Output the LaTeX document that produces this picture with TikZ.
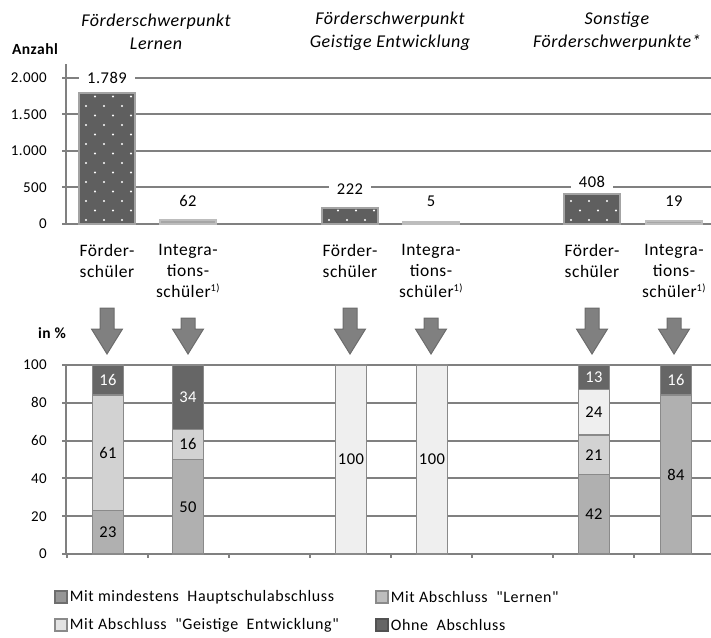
\documentclass[tikz,border=0pt]{standalone}
\usepackage{fontspec}
\setmainfont{Carlito}[LetterSpace=3]
\newfontfamily\keyfont{Carlito}[LetterSpace=4]
\usetikzlibrary{positioning}
\definecolor{axisgray}{HTML}{808080}
\definecolor{bardark}{HTML}{5F5F5F}
\definecolor{barrim}{HTML}{A3A3A3}
\definecolor{barlight}{HTML}{A6A6A6}
\definecolor{barlightrim}{HTML}{BDBDBD}
\definecolor{hauptgray}{HTML}{B0B0B0}
\definecolor{lerngray}{HTML}{D2D2D2}
\definecolor{geistgray}{HTML}{EFEFEF}
\definecolor{ohnegray}{HTML}{666666}
\definecolor{segrim}{HTML}{8A8A8A}
\definecolor{arrowgray}{HTML}{808080}
\definecolor{arrowrim}{HTML}{6C6C6C}
\tikzset{
  gridline/.style={draw=axisgray, line width=2pt},
  ticklab/.style={anchor=east, inner sep=0pt, font=\fontsize{15}{17}\selectfont},
  vallab/.style={fill=white, inner xsep=8pt, inner ysep=5pt, font=\fontsize{16.5}{19}\selectfont},
  countbar/.style={fill=bardark, draw=barrim, line width=2pt},
  smallbar/.style={fill=barlight, draw=barlightrim, line width=2pt},
  seg/.style={draw=segrim, line width=1.5pt},
  seglab/.style={inner sep=0pt, font=\fontsize{16.5}{19}\selectfont},
  titlelab/.style={align=center, font=\fontsize{18}{23}\selectfont\itshape},
  catlab/.style={align=center, anchor=north, inner sep=0pt, font=\fontsize{17.5}{21}\selectfont},
  headlab/.style={inner sep=0pt, font=\fontsize{15.5}{18}\selectfont\bfseries},
  keybox/.style={minimum size=12pt, inner sep=0pt, line width=1.2pt},
  keylab/.style={anchor=west, inner sep=1pt, font=\keyfont\fontsize{16}{18}\selectfont},
  downarrow/.style={fill=arrowgray, draw=arrowrim, line width=1pt},
}

\begin{document}
\begin{tikzpicture}[x=1pt,y=-1pt]
  \useasboundingbox (0,0) rectangle (711,637);

  % headings
  \node[titlelab] (tlernen) at (156,31.5) {Förderschwerpunkt\\Lernen};
  \node[titlelab] (tgeistig) at (390,31.5) {Förderschwerpunkt\\Geistige Entwicklung};
  \node[titlelab] (tsonst) at (617,31.5) {Sonstige\\Förderschwerpunkte*};
  \node[headlab] (anzahl) at (35,49) {Anzahl};
  \node[headlab] (inproz) at (52,333) {in \%};

  % upper chart: grid and axes
  \foreach \v in {500,1000,1500,2000}
    \draw[gridline] (66,{224-0.0731*\v}) -- (711,{224-0.0731*\v});
  \draw[gridline] (66,64) -- (66,224) -- (711,224);
  \foreach \v/\t in {0/0,500/500,1000/1.000,1500/1.500,2000/2.000}{
    \draw[gridline] (62,{224-0.0731*\v}) -- (66,{224-0.0731*\v});
    \node[ticklab] at (47,{224-0.0731*\v}) {\t};
  }

  % upper chart: bars
  \foreach \x/\v in {107/1789,350/222,592/408}{
    \draw[countbar] (\x-28,224) rectangle (\x+28,{224-0.0731*\v});
    \begin{scope}
      \clip (\x-27,223) rectangle (\x+27,{225-0.0731*\v});
      \foreach \r in {0,...,14}
        \foreach \c in {0,...,3}
          \fill[white] ({\x-21+18*\c+9*mod(\r,2)},{220-9.5*\r}) circle (1.2pt);
    \end{scope}
  }
  \foreach \x/\t in {188/219.5,431/221.8,674/221.3}
    \draw[smallbar] (\x-28,224) rectangle (\x+28,\t);

  \node[vallab] (v1) at (107,78) {1.789};
  \node[vallab] (v2) at (188,201) {62};
  \node[vallab] (v3) at (350,189.5) {222};
  \node[vallab] (v4) at (431,201) {5};
  \node[vallab] (v5) at (592,181.5) {408};
  \node[vallab] (v6) at (674,201) {19};

  % group labels
  \foreach \x/\n in {107/1,350/3,592/5}
    \node[catlab] (cat\n) at (\x,244) {Förder-\\schüler};
  \foreach \x/\n in {188/2,431/4,674/6}
    \node[catlab] (cat\n) at (\x,244) {Integra-\\tions-\\schüler\textsuperscript{\fontsize{10.5}{10}\selectfont 1)}};

  % arrows
  \foreach \x/\t in {107/308,188/318,350/308,431/318,592/308,674/318}
    \draw[downarrow] (\x-7,\t) -- (\x+7,\t) -- (\x+7,329) -- (\x+15.5,329)
      -- (\x,354) -- (\x-15.5,329) -- (\x-7,329) -- cycle;

  % lower chart: grid and axes
  \foreach \p in {20,40,...,100}
    \draw[gridline] (66,{554-1.89*\p}) -- (711,{554-1.89*\p});
  \draw[gridline] (66,365) -- (66,554) -- (711,554);
  \foreach \p in {0,20,...,100}{
    \draw[gridline] (62,{554-1.89*\p}) -- (66,{554-1.89*\p});
    \node[ticklab] at (47,{554-1.89*\p}) {\p};
  }
  \foreach \k in {0,...,7}
    \draw[gridline] ({67+81*\k},554) -- ({67+81*\k},558);

  % lower chart: stacked bars
  \foreach \x/\lo/\hi/\col/\tcol [count=\i] in {
      108/0/23/hauptgray/black, 108/23/84/lerngray/black, 108/84/100/ohnegray/white,
      188/0/50/hauptgray/black, 188/50/66/lerngray/black, 188/66/100/ohnegray/white,
      351/0/100/geistgray/black,
      432/0/100/geistgray/black,
      594/0/42/hauptgray/black, 594/42/63/lerngray/black, 594/63/87/geistgray/black, 594/87/100/ohnegray/white,
      676/0/84/hauptgray/black, 676/84/100/ohnegray/white}{
    \draw[seg, fill=\col] (\x-15.5,{554-1.89*\lo}) rectangle (\x+15.5,{554-1.89*\hi});
    \pgfmathtruncatemacro{\share}{\hi-\lo}
    \node[seglab, text=\tcol] (seg\i) at (\x,{554-0.945*(\lo+\hi)}) {\share};
  }

  % legend
  \node[keybox, fill=hauptgray!85!black, draw=segrim!80!black] (k1) at (61,597) {};
  \node[keylab, right=1pt of k1] (l1) {Mit mindestens\ \ Hauptschulabschluss};
  \node[keybox, fill=lerngray!90!black, draw=segrim] (k2) at (382,597) {};
  \node[keylab, right=1pt of k2] (l2) {Mit Abschluss\ \ "Lernen"};
  \node[keybox, fill=geistgray!95!black, draw=segrim] (k3) at (61,625) {};
  \node[keylab, right=1pt of k3] (l3) {Mit Abschluss\ \ "Geistige\ \ Entwicklung"};
  \node[keybox, fill=ohnegray, draw=ohnegray!80!black] (k4) at (382,625) {};
  \node[keylab, right=1pt of k4] (l4) {Ohne\ \ Abschluss};
\end{tikzpicture}
\end{document}
